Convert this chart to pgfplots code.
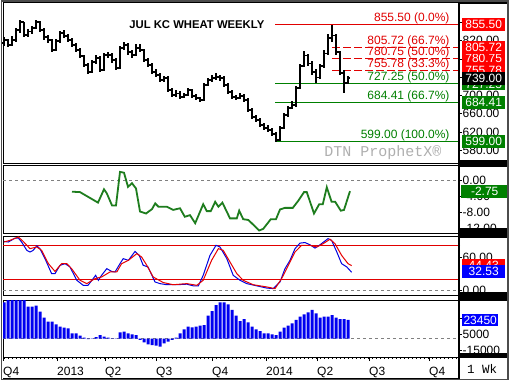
\documentclass[border=0pt]{standalone}
\usepackage{fontspec}
\setmainfont{Liberation Sans}
\newfontfamily\monofont{Liberation Mono}
\usepackage{pgfplots}
\usepackage{pgfplotstable}
\pgfplotsset{compat=1.18}

\definecolor{fibred}{RGB}{225,0,0}
\definecolor{fibgreen}{RGB}{0,128,0}
\definecolor{boxred}{RGB}{255,0,0}
\definecolor{boxgreen}{RGB}{0,128,0}
\definecolor{boxblue}{RGB}{0,0,255}
\definecolor{macdgreen}{RGB}{30,125,30}
\definecolor{stochblue}{RGB}{0,0,225}
\definecolor{stochred}{RGB}{230,0,0}
\definecolor{histblue}{RGB}{0,0,240}
\definecolor{wmgray}{RGB}{175,175,175}

\newcommand{\lab}{\fontsize{12bp}{14bp}\selectfont}

\pgfdeclareplotmark{openl}{\pgfpathmoveto{\pgfpoint{-2.2bp}{0pt}}\pgfpathlineto{\pgfpoint{0pt}{0pt}}\pgfusepathqstroke}
\pgfdeclareplotmark{closer}{\pgfpathmoveto{\pgfpoint{0pt}{0pt}}\pgfpathlineto{\pgfpoint{2.2bp}{0pt}}\pgfusepathqstroke}

\pgfplotstableread{
w o h l c
0 815 828 808 822
1 822 825 806 811
2 811 830 808 822
3 822 848 818 844
4 844 866 838 861
5 861 862 828 833
6 833 845 828 840
7 840 852 835 848
8 848 866 845 861
9 861 863 840 844
10 844 848 822 828
11 828 832 815 822
12 822 825 795 800
13 800 823 797 819
14 819 842 815 837
15 837 843 826 831
16 831 836 818 822
17 822 826 806 811
18 811 815 795 800
19 800 804 782 787
20 787 790 762 767
21 767 772 748 752
22 752 778 750 774
23 774 790 770 782
24 782 786 752 756
25 756 794 754 789
26 789 796 783 789
27 789 793 772 778
28 778 782 756 760
29 760 808 758 804
30 804 818 800 811
31 811 815 790 795
32 795 800 783 789
33 789 812 786 804
34 804 813 795 800
35 800 803 774 778
36 778 782 762 767
37 767 771 748 752
38 752 758 740 745
39 745 749 729 734
40 734 744 730 738
41 738 742 707 712
42 712 716 697 701
43 701 712 698 705
44 705 709 693 697
45 697 706 694 701
46 701 716 699 712
47 712 715 695 699
48 699 703 690 695
49 695 698 686 690
50 690 727 688 723
51 723 738 720 734
52 734 745 730 738
53 738 750 735 741
54 741 745 733 738
55 738 742 719 723
56 723 727 704 708
57 708 712 693 697
58 697 701 690 695
59 695 705 692 699
60 699 703 686 690
61 690 694 664 668
62 668 672 649 653
63 653 658 642 646
64 646 651 632 636
65 636 640 625 629
66 629 636 621 625
67 625 629 612 616
68 616 620 599 603
69 603 633 600 629
70 629 661 626 657
71 657 678 653 673
72 673 688 670 679
73 679 722 676 717
74 717 770 714 765
75 765 797 762 788
76 788 792 765 770
77 770 775 745 752
78 752 758 727 740
79 740 770 736 765
80 765 800 760 792
81 792 835 788 826
82 826 855.5 818 832
83 832 836 790 795
84 795 798 745 750
85 750 755 706 728
86 728 744 725 739
}\price

\pgfplotstableread{
w v
17 -2.9
19 -3.0
23.5 -5.6
25 -2.3
25.7 -3.3
27 -6.3
28 -6.3
29 2.0
30 1.8
31 -1.7
32 -0.8
33 -2.1
34 -7.8
35.5 -8.3
37 -7.2
37.8 -5.8
38.6 -6.6
40.7 -6.6
42.3 -7.4
44 -7.0
45.2 -9.1
46.5 -8.7
47.8 -10.7
49.8 -6.0
50.7 -7.7
51.7 -7.7
52.8 -5.4
53.6 -6.6
54.6 -5.6
56.5 -9.5
58.2 -9.5
58.8 -7.6
59.8 -9.7
61.1 -9.9
63.8 -12.5
64.8 -12.1
66.7 -9.7
68 -9.7
69 -7.3
70.2 -6.9
72.2 -6.9
73.6 -5.1
75 -3.0
75.7 -3.0
77.5 -8.3
78.8 -6.0
79.7 -6.0
80.7 -1.8
81.9 -5.4
82.8 -5.4
84.2 -7.6
85 -7.4
86.5 -2.75
}\macd

\pgfplotstableread{
w v
0 88
1.1 87
2.75 94
3.6 94
4.4 87
5.7 72
6.5 69
7.3 72
8.2 80
9 75
10.25 57
11.9 30
12.75 30
14 45
15.25 48
16.5 42
18.2 18
19.8 9
21 9
22.3 21
22.9 27
23.6 18
24.4 27
25.7 39
26.9 34
27.75 33
29 48
29.8 57
31.1 54
32.75 70
33.8 63
34.8 45
36 42
37.75 15
39 12
40.7 10
43.2 10
45.7 11
47.3 8
48.6 8
49.8 27
51.5 63
53 81
54 78
55.7 57
57.3 27
59 18
60.7 12
63.2 8
65.7 4
67.3 3
69 15
70.25 39
71.5 54
72.75 75
74 85
75.25 86
76.5 82
77.75 76
79 82
81 93
81.9 90
83.2 69
84.4 48
85.7 42
86.9 32.53
}\stochk

\pgfplotstableread{
w v
0 87
1.5 90
3.6 96
4.8 88
6.5 75
8.2 78
9.4 72
11.1 48
12.75 34
14.4 48
15.7 48
16.9 39
19 18
20.7 12
22.75 21
24.4 24
26.5 33
28.2 33
29.4 48
31.1 54
33.2 66
34.4 60
35.7 45
37.3 24
39.8 14
42.3 10
45.7 12
48.2 9
49.8 18
51.9 54
53.6 75
54.8 72
56.5 51
58.2 30
59.8 18
62.3 10
65.7 6
67.75 3
69.4 21
71.1 45
72.75 69
74.4 81
76.5 81
78.2 78
79.8 84
81.5 92
82.75 84
84.4 63
86 48
86.9 44.43
}\stochd

\pgfplotstableread{
w v
0 45400
1 52000
2 52000
3 52000
4 52000
5 52000
6 40000
7 40000
8 41300
9 33800
10 26300
11 21300
12 21300
13 18000
14 15000
15 13800
16 13000
17 6700
18 6700
19 3800
20 1300
21 -400
22 500
23 2100
24 4600
25 2500
26 1300
27 -300
28 500
29 8000
30 8800
31 6700
32 5500
33 4600
34 -1600
35 -4500
36 -7000
37 -7900
38 -8700
39 -10000
40 -5800
41 -3700
42 -1600
43 1300
44 6700
45 11700
46 15000
47 14200
48 15000
49 16300
50 17100
51 28800
52 34600
53 42100
54 45400
55 45400
56 43000
57 35900
58 28800
59 22100
60 24600
61 20500
62 15000
63 11700
64 9600
65 6700
66 6700
67 5500
68 4600
69 8800
70 13800
71 16300
72 19200
73 23400
74 27500
75 30500
76 33000
77 35900
78 31700
79 26300
80 27500
81 27500
82 29600
83 26300
84 24600
85 24600
86 23450
}\hist

\pgfplotsset{
  panel/.style={
    scale only axis, width=455bp,
    xmin=-0.25, xmax=113.5,
    xtick=\empty,
    ytick pos=right, yticklabel pos=right,
    scaled y ticks=false, scaled x ticks=false,
    tick align=outside,
    major tick length=4bp, minor tick length=2bp,
    every tick/.style={black, line width=0.8bp},
    yticklabel style={anchor=west, inner sep=0pt, xshift=0.5bp, font=\lab},
    axis line style={black, line width=1bp},
    clip mode=individual,
    anchor=north west,
  },
}
\newcommand{\valbox}[4]{\node[fill=#1, text=#4, anchor=west, inner sep=0pt, minimum width=43bp, minimum height=12.5bp, font=\lab, xshift=4bp] at (axis cs:113.5,#2) {#3};}
\newcommand{\fiblab}[3]{\node[anchor=base east, text=#1, font=\lab, xshift=-5bp, yshift=3bp] at (axis cs:113.5,#2) {#3};}

\begin{document}
\begin{tikzpicture}
\useasboundingbox (0bp,0bp) rectangle (510bp,-382bp);
\fill[white] (0bp,0bp) rectangle (510bp,-382bp);

% ---------- Panel 1: price ----------
\begin{axis}[panel, at={(3bp,-3bp)}, height=160bp,
  ymin=552.4, ymax=902.8,
  ytick={580,620,660,700,740,780,820,860},
  yticklabels={580.00,620.00,660.00,700.00,{},{},820.00,{}},
  minor ytick={600,640,680,720,760,800,840,880},
]
\addplot[fibred, line width=1bp] coordinates {(67.75,855.5) (113.5,855.5)};
\addplot[fibred, line width=1bp, dash pattern=on 8bp off 3bp] coordinates {(82,805.72) (113.5,805.72)};
\addplot[fibred, line width=1bp, dash pattern=on 8bp off 3bp] coordinates {(82,780.75) (113.5,780.75)};
\addplot[fibred, line width=1bp, dash pattern=on 8bp off 3bp] coordinates {(82,755.78) (113.5,755.78)};
\addplot[fibgreen, line width=1bp] coordinates {(67.75,727.25) (113.5,727.25)};
\addplot[fibgreen, line width=1bp] coordinates {(67.75,684.41) (113.5,684.41)};
\addplot[fibgreen, line width=1bp] coordinates {(67.75,599) (113.5,599)};
\addplot[black, only marks, mark=closer, mark options={line width=1.6bp},
  error bars/.cd, y dir=both, y explicit, error mark=none,
  error bar style={line width=1.6bp, black}]
  table[x=w, y=c, y error plus expr=\thisrow{h}-\thisrow{c}, y error minus expr=\thisrow{c}-\thisrow{l}] {\price};
\addplot[black, only marks, mark=openl, mark options={line width=1.6bp}] table[x=w, y=o] {\price};

\node[font=\bfseries\fontsize{11.3bp}{13bp}\selectfont] at (rel axis cs:0.426,0.8625) {JUL KC WHEAT WEEKLY};
\node[font=\monofont\fontsize{15bp}{17bp}\selectfont, text=wmgray] at (rel axis cs:0.835,0.062) {DTN ProphetX®};

\fiblab{fibred}{855.5}{855.50 (0.0\%)}
\fiblab{fibred}{805.72}{805.72 (66.7\%)}
\fiblab{fibred}{780.75}{780.75 (50.0\%)}
\fiblab{fibred}{755.78}{755.78 (33.3\%)}
\fiblab{fibgreen}{727.25}{727.25 (50.0\%)}
\fiblab{fibgreen}{684.41}{684.41 (66.7\%)}
\fiblab{fibgreen}{599}{599.00 (100.0\%)}

\valbox{boxred}{855.5}{855.50}{white}
\valbox{boxred}{755.78}{755.78}{white}
\valbox{boxgreen}{725.5}{727.25}{white}
\valbox{boxred}{780.75}{780.75}{white}
\valbox{boxred}{805.72}{805.72}{white}
\valbox{black}{737.5}{739.00}{white}
\valbox{boxgreen}{684.41}{684.41}{white}
\valbox{boxgreen}{599}{599.00}{white}
\end{axis}

% ---------- Panel 2 ----------
\begin{axis}[panel, at={(3bp,-165bp)}, height=68bp,
  ymin=-13.12, ymax=3.71,
  ytick={-12,-8,-4,0},
  yticklabels={-12.00,-8.00,-4.00,0.00},
  minor ytick={-10,-6,-2,2},
]
\addplot[gray, line width=0.8bp, dash pattern=on 3bp off 3bp] coordinates {(-0.25,0) (113.5,0)};
\addplot[macdgreen, line width=1.8bp] table[x=w, y=v] {\macd};
\node[fill=boxgreen, text=white, anchor=west, inner sep=0pt, minimum width=47bp, minimum height=13bp, font=\lab, xshift=3bp] at (axis cs:113.5,-2.75) {-2.75};
\end{axis}

% ---------- Panel 3 ----------
\begin{axis}[panel, at={(3bp,-236bp)}, height=59bp,
  ymin=-8.5, ymax=97.8,
  ytick={0,60},
  yticklabels={0.00,60.00},
  minor ytick={20,40,80},
]
\addplot[gray, line width=0.8bp, dash pattern=on 3bp off 3bp] coordinates {(-0.25,0) (113.5,0)};
\addplot[fibred, line width=1bp] coordinates {(-0.25,80) (113.5,80)};
\addplot[fibred, line width=1bp] coordinates {(-0.25,20) (113.5,20)};
\addplot[stochblue, line width=1bp] table[x=w, y=v] {\stochk};
\addplot[stochred, line width=1bp] table[x=w, y=v] {\stochd};
\valbox{boxred}{44.43}{44.43}{white}
\valbox{boxblue}{33.8}{32.53}{white}
\end{axis}

% ---------- Panel 4 ----------
\begin{axis}[panel, at={(3bp,-300bp)}, height=57bp,
  ymin=-22900, ymax=48400,
  ytick={-15000,5000,25000},
  yticklabels={-15000,5000,{}},
  minor ytick={-5000,15000,35000,45000},
  xtick pos=left,
  xtick={-0.25,13.25,25.25,38,52,65.5,78.25,91.25,106.25},
  xticklabels={Q4,2013,Q2,Q3,Q4,2014,Q2,Q3,Q4},
  minor xtick={0,...,113},
  xticklabel style={anchor=north west, inner sep=0pt, yshift=-6bp, font=\lab},
  x tick style={line width=0.8bp},
]
\addplot[gray, line width=0.8bp, dash pattern=on 3bp off 3bp] coordinates {(-0.25,0) (113.5,0)};
\addplot[ybar, bar width=3bp, fill=histblue, draw=none] table[x=w, y=v] {\hist};
\node[fill=boxblue, text=white, anchor=west, inner sep=0pt, minimum width=36bp, minimum height=12.5bp, font=\lab, xshift=4bp] at (axis cs:113.5,23450) {23450};
\end{axis}

% ---------- frame decorations ----------
\draw[black, line width=2bp] (459bp,0bp) -- (459bp,-379bp);
\fill[black] (458bp,0bp) rectangle (508bp,-4bp);
\fill[black] (458bp,-160bp) rectangle (508bp,-167bp);
\fill[black] (458bp,-228bp) rectangle (508bp,-238bp);
\fill[black] (458bp,-292bp) rectangle (508bp,-301bp);
\fill[black] (458bp,-353bp) rectangle (508bp,-358bp);
\draw[black, line width=1bp] (3bp,-378.5bp) -- (459bp,-378.5bp);
\draw[gray!60!black, line width=1.5bp] (1.5bp,-1bp) rectangle (508bp,-379.5bp);
\node[font=\monofont\fontsize{12.5bp}{14bp}\selectfont] at (482bp,-369bp) {1 Wk};
\end{tikzpicture}
\end{document}
